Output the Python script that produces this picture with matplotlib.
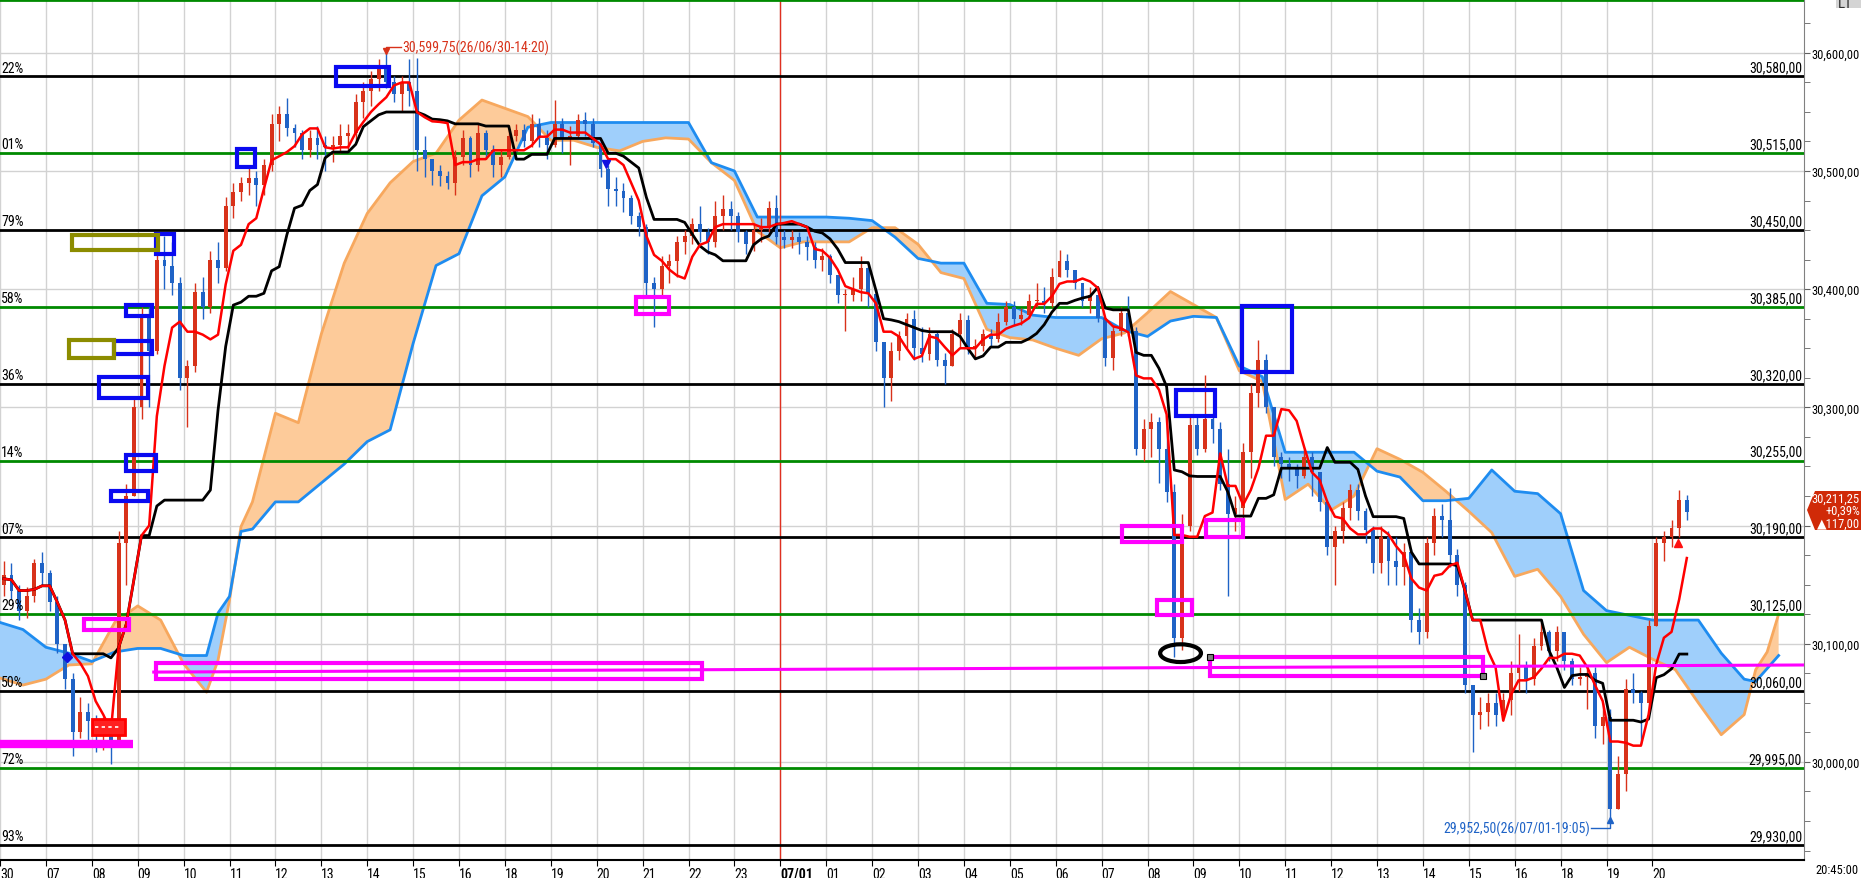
import numpy as np
import pandas as pd
import matplotlib
matplotlib.use('Agg')
import matplotlib.pyplot as plt
from matplotlib import font_manager
from matplotlib.patches import Rectangle, Ellipse, Polygon

# pick a narrow face if one is installed, the HTS font is very condensed
narrow = None
for f in font_manager.fontManager.ttflist:
    fn = f.fname.lower()
    if ('narrow' in fn or 'condensed' in fn) and f.style == 'normal' \
            and f.weight in (400, 'normal', 'regular'):
        narrow = f
        if 'liberation' in fn:
            break
fsize = 10
if narrow is None:
    plt.rcParams['font.family'] = ['DejaVu Sans']
    fsize = 7
elif narrow.name == 'DejaVu Sans':
    plt.rcParams['font.family'] = ['DejaVu Sans']
    plt.rcParams['font.stretch'] = 'condensed'
    fsize = 8
else:
    plt.rcParams['font.family'] = [narrow.name, 'DejaVu Sans']
fsmall = fsize - 1   # right axis column is only 57 px wide

############################################################
# data: 10-minute bars from 06/30 06:00, x axis in trading hours
first_open = 30150
closes = [
    30158, 30145, 30128, 30140, 30168, 30160,
    30135, 30100, 30070, 30025, 30042, 30035,
    30022, 30030, 30018, 30185, 30225, 30300,
    30378, 30348, 30425, 30420, 30405, 30325,
    30335, 30398, 30385, 30425, 30418, 30470,
    30482, 30490, 30494, 30488, 30505, 30540,
    30548, 30536, 30532, 30518, 30528, 30522,
    30520, 30522, 30530, 30532, 30558, 30568,
    30578, 30590, 30575, 30565, 30575, 30568,
    30518, 30510, 30500, 30496, 30490, 30512,
    30528, 30505, 30532, 30518, 30505, 30512,
    30530, 30535, 30525, 30540, 30528, 30522,
    30540, 30527, 30530, 30543, 30540, 30524,
    30502, 30485, 30483, 30477, 30462, 30453,
    30405, 30400, 30420, 30424, 30440, 30445,
    30455, 30448, 30440, 30462, 30468, 30462,
    30448, 30438, 30450, 30452, 30469, 30444,
    30442, 30444, 30440, 30436, 30425, 30428,
    30412, 30395, 30395, 30400, 30418, 30396,
    30355, 30325, 30348, 30360, 30375, 30350,
    30345, 30362, 30340, 30335, 30362, 30374,
    30350, 30352, 30362, 30358, 30372, 30385,
    30375, 30378, 30390, 30390, 30388, 30410,
    30424, 30416, 30405, 30390, 30395, 30376,
    30342, 30365, 30380, 30365, 30265, 30282,
    30288, 30265, 30228, 30105, 30200, 30285,
    30265, 30290, 30282, 30235, 30210, 30215,
    30262, 30312, 30340, 30300, 30258, 30252,
    30248, 30242, 30258, 30245, 30220, 30182,
    30195, 30215, 30230, 30212, 30196, 30168,
    30190, 30170, 30165, 30178, 30120, 30110,
    30185, 30208, 30205, 30175, 30150, 30065,
    30040, 30042, 30050, 30040, 30052, 30075,
    30080, 30070, 30098, 30110, 30094, 30110,
    30085, 30070, 30072, 30075, 30030, 30038,
    29960, 29990, 30062, 30058, 30050, 30115,
    30185, 30190, 30198, 30222, 30211.25,
]
highs = [
    30170, 30168, 30150, 30148, 30172, 30178,
    30162, 30140, 30098, 30075, 30055, 30050,
    30040, 30038, 30035, 30195, 30235, 30310,
    30385, 30385, 30435, 30445, 30440, 30410,
    30340, 30405, 30410, 30432, 30440, 30478,
    30490, 30495, 30505, 30500, 30510, 30548,
    30555, 30562, 30540, 30535, 30535, 30538,
    30530, 30530, 30540, 30540, 30565, 30575,
    30585, 30595, 30599.75, 30580, 30580, 30595,
    30596, 30530, 30510, 30505, 30500, 30518,
    30535, 30530, 30540, 30535, 30522, 30518,
    30535, 30540, 30540, 30548, 30545, 30535,
    30560, 30545, 30538, 30548, 30550, 30545,
    30525, 30505, 30495, 30490, 30480, 30465,
    30455, 30410, 30428, 30430, 30445, 30450,
    30460, 30470, 30452, 30475, 30480, 30475,
    30465, 30450, 30455, 30460, 30475, 30480,
    30450, 30450, 30448, 30445, 30440, 30435,
    30430, 30412, 30400, 30410, 30428, 30420,
    30400, 30355, 30355, 30365, 30380, 30382,
    30368, 30368, 30365, 30346, 30366, 30380,
    30378, 30358, 30366, 30366, 30380, 30390,
    30390, 30384, 30396, 30405, 30402, 30418,
    30433, 30430, 30415, 30405, 30402, 30395,
    30376, 30370, 30385, 30394, 30368, 30290,
    30295, 30292, 30285, 30235, 30210, 30292,
    30292, 30327, 30295, 30288, 30265, 30225,
    30270, 30320, 30357, 30345, 30300, 30262,
    30258, 30252, 30265, 30262, 30245, 30222,
    30200, 30220, 30235, 30235, 30215, 30200,
    30200, 30195, 30190, 30185, 30180, 30130,
    30190, 30215, 30218, 30232, 30180, 30152,
    30062, 30055, 30058, 30058, 30058, 30085,
    30108, 30085, 30105, 30118, 30112, 30115,
    30110, 30088, 30080, 30082, 30080, 30050,
    30045, 30005, 30070, 30075, 30060, 30120,
    30190, 30195, 30205, 30230, 30226,
]
lows = [
    30140, 30138, 30120, 30122, 30135, 30150,
    30128, 30092, 30062, 30005, 30020, 30018,
    30008, 30010, 29998, 30015, 30150, 30225,
    30290, 30300, 30345, 30400, 30395, 30315,
    30283, 30330, 30375, 30380, 30405, 30415,
    30460, 30475, 30480, 30470, 30480, 30500,
    30525, 30530, 30520, 30510, 30512, 30510,
    30500, 30508, 30515, 30518, 30525, 30545,
    30555, 30568, 30570, 30558, 30550, 30555,
    30500, 30495, 30488, 30487, 30485, 30480,
    30505, 30495, 30500, 30510, 30495, 30495,
    30510, 30525, 30520, 30520, 30520, 30510,
    30520, 30515, 30505, 30528, 30530, 30520,
    30495, 30470, 30470, 30465, 30455, 30445,
    30395, 30368, 30395, 30405, 30410, 30430,
    30438, 30440, 30430, 30436, 30450, 30450,
    30440, 30430, 30432, 30440, 30448, 30438,
    30435, 30435, 30430, 30425, 30418, 30415,
    30405, 30388, 30365, 30390, 30390, 30385,
    30348, 30300, 30305, 30340, 30350, 30340,
    30338, 30340, 30335, 30320, 30335, 30350,
    30345, 30343, 30348, 30352, 30355, 30370,
    30370, 30370, 30376, 30385, 30380, 30385,
    30410, 30410, 30400, 30385, 30380, 30372,
    30335, 30332, 30360, 30360, 30260, 30255,
    30258, 30236, 30220, 30089, 30095, 30195,
    30260, 30262, 30270, 30230, 30140, 30195,
    30195, 30240, 30300, 30295, 30250, 30240,
    30238, 30232, 30240, 30225, 30212, 30175,
    30150, 30185, 30205, 30205, 30185, 30160,
    30160, 30150, 30150, 30150, 30110, 30100,
    30105, 30175, 30190, 30165, 30140, 30058,
    30008, 30028, 30030, 30030, 30035, 30040,
    30060, 30058, 30065, 30095, 30085, 30085,
    30078, 30065, 30065, 30045, 30020, 30015,
    29952.5, 29960, 29975, 30050, 30015, 30045,
    30115, 30170, 30182, 30190, 30205,
]

hour_labels = ['30', '07', '08', '09', '10', '11', '12', '13', '14', '15',
               '16', '18', '19', '20', '21', '22', '23', '07/01', '01', '02',
               '03', '04', '05', '06', '07', '08', '09', '10', '11', '12',
               '13', '14', '15', '16', '18', '19', '20']

# leading spans (cloud)
span_u = [0, 0.5, 1, 1.5, 2, 2.5, 3, 3.5, 4, 4.5,
          4.75, 5, 5.25, 5.5, 6, 6.5, 7, 7.5, 8, 8.5,
          9, 9.5, 10, 10.5, 11, 11.5, 12, 12.5, 13, 13.5,
          14, 14.5, 15, 15.5, 16, 16.5, 17, 17.5, 18, 18.5,
          19, 19.5, 20, 20.5, 21, 21.5, 22, 22.5, 23, 23.5,
          24, 24.5, 25, 25.5, 26, 26.5, 27, 27.5, 28, 28.5,
          29, 29.5, 30, 30.5, 31, 31.5, 32, 32.5, 33, 33.5,
          34, 34.5, 35, 35.5, 36, 36.5, 37, 37.5, 38, 38.25,
          38.5, 38.75]
span_a = [30118, 30112, 30097, 30092, 30085, 30093, 30096, 30096, 30090, 30090,
          30126, 30140, 30195, 30197, 30220, 30220, 30236, 30252, 30271, 30281,
          30354, 30420, 30430, 30479, 30495, 30537, 30541, 30541, 30541, 30541,
          30541, 30541, 30541, 30507, 30500, 30461, 30461, 30461, 30461, 30460,
          30458, 30444, 30426, 30422, 30422, 30388, 30387, 30378, 30376, 30376,
          30376, 30365, 30360, 30373, 30377, 30376, 30335, 30326, 30262, 30262,
          30262, 30262, 30246, 30241, 30221, 30221, 30223, 30247, 30229, 30227,
          30210, 30145, 30128, 30124, 30120, 30120, 30120, 30092, 30070, 30068,
          30079, 30090]
span_b = [30071, 30065, 30070, 30082, 30083, 30118, 30132, 30120, 30083, 30059,
          30086, 30137, 30199, 30220, 30295, 30287, 30362, 30422, 30464, 30490,
          30508, 30515, 30543, 30560, 30553, 30546, 30526, 30526, 30520, 30517,
          30525, 30528, 30527, 30507, 30492, 30449, 30435, 30440, 30440, 30440,
          30452, 30452, 30438, 30414, 30409, 30366, 30359, 30357, 30350, 30344,
          30358, 30363, 30380, 30398, 30387, 30376, 30331, 30322, 30222, 30235,
          30213, 30225, 30265, 30256, 30245, 30229, 30212, 30194, 30157, 30163,
          30140, 30108, 30084, 30097, 30087, 30078, 30050, 30023, 30040, 30078,
          30093, 30125]

levels = [30645, 30580, 30515, 30450, 30385, 30320, 30255, 30190, 30125,
          30060, 29995, 29930]
level_pct = ['', '22%', '01%', '79%', '58%', '36%', '14%', '07%', '29%',
             '50%', '72%', '93%']

prev_close = 30094.25

############################################################

def fmt(v):
    return '{:,.2f}'.format(v).replace('.', ',')

W, H = 1861, 879
fig = plt.figure(figsize=(W / 100, H / 100), dpi=100)
ax = fig.add_axes([0, 18 / H, 1804 / W, 861 / H])
ax.set_xlim(0, 1804 / 45.9)
ax.set_ylim(29917, 30645.5)

red_c = '#D8321A'
blue_c = '#1F63C6'

# grid
for h in range(len(hour_labels)):
    ax.axvline(h, color='#D2D2D2', lw=1, zorder=0)
for p in range(30000, 30700, 100):
    ax.axhline(p, color='#D2D2D2', lw=1, zorder=0)

# cloud
su = np.array(span_u)
sa = np.array(span_a, dtype=float)
sb = np.array(span_b, dtype=float)
ax.fill_between(su, sa, sb, where=sa >= sb, interpolate=True,
                color='#9FCFFB', lw=0, zorder=1)
ax.fill_between(su, sa, sb, where=sa < sb, interpolate=True,
                color='#FDCB9A', lw=0, zorder=1)
ax.plot(su, sb, color='#F7A85E', lw=2, zorder=2)
ax.plot(su, sa, color='#1E8CF0', lw=2, zorder=2)

# red day separator
ax.axvline(17, color='#E03020', lw=1, zorder=2)

# candles
n = len(closes)
xs = (np.arange(n) + 0.5) / 6
c = np.array(closes, dtype=float)
o = np.concatenate([[first_open], c[:-1]])
hi = np.array(highs, dtype=float)
lo = np.array(lows, dtype=float)
cols = [red_c if cc >= oo else blue_c for oo, cc in zip(o, c)]
ax.vlines(xs, lo, hi, colors=cols, lw=1, zorder=4)
body = np.maximum(np.abs(c - o), 1.0)
ax.bar(xs, body, bottom=np.minimum(o, c), width=0.085, color=cols,
       lw=0, zorder=4)

# conversion / base lines
hs = pd.Series(hi)
ls = pd.Series(lo)
tenkan = (hs.rolling(5, min_periods=1).max() + ls.rolling(5, min_periods=1).min()) / 2
kijun = (hs.rolling(13, min_periods=1).max() + ls.rolling(13, min_periods=1).min()) / 2
ax.plot(xs, kijun, color='black', lw=2, zorder=5)
ax.plot(xs, tenkan, color='#FF0000', lw=1.8, zorder=5)

# level lines with labels
xr = 1802 / 45.9
for i, lv in enumerate(levels):
    col = '#008A00' if i % 2 == 0 else 'black'
    ax.axhline(lv, color=col, lw=2, zorder=3)
    if level_pct[i]:
        ax.text(0.02, lv + 1.5, level_pct[i], fontsize=fsize, ha='left',
                va='bottom', zorder=6)
        ax.text(xr, lv + 1.5, fmt(lv), fontsize=fsize, ha='right',
                va='bottom', zorder=6)

# drawn boxes
blue = '#0A0AF0'
olive = '#8C8C00'
mag = '#FF00FF'
boxes = [
    (7.33, 8.48, 30572, 30588, blue), (5.16, 5.55, 30503, 30519, blue),
    (3.40, 3.78, 30430, 30447, blue), (2.75, 3.31, 30377, 30387, blue),
    (2.49, 3.31, 30345, 30356, blue), (2.16, 3.22, 30308, 30326, blue),
    (2.75, 3.39, 30246, 30260, blue), (2.41, 3.22, 30221, 30229, blue),
    (27.05, 28.14, 30330, 30386, blue), (25.62, 26.48, 30293, 30315, blue),
    (1.56, 3.45, 30433, 30446, olive), (1.50, 2.48, 30342, 30357, olive),
    (1.83, 2.80, 30112, 30121, mag), (3.40, 15.3, 30070, 30084, mag),
    (13.86, 14.58, 30379, 30393, mag), (24.44, 25.75, 30186, 30200, mag),
    (26.27, 27.07, 30190, 30205, mag), (25.20, 25.98, 30124, 30137, mag),
    (26.36, 32.30, 30073, 30089, mag),
]
for x0, x1, y0, y1, col in boxes:
    ax.add_patch(Rectangle((x0, y0), x1 - x0, y1 - y0, fill=False,
                           ec=col, lw=3, zorder=7))
ax.plot([3.35, 1804 / 45.9], [30076, 30082], color=mag, lw=2.2, zorder=7)
ax.plot([0, 2.9], [30015, 30015], color=mag, lw=6, solid_capstyle='butt',
        zorder=7)
ax.add_patch(Rectangle((2.0, 30023), 0.72, 13, fc='#FF2020', ec='#FF0000',
                       lw=2, zorder=7))
ax.plot([2.08, 2.64], [30029.5, 30029.5], color='white', lw=1.2,
        ls=(0, (2, 2)), zorder=8)
ax.add_patch(Ellipse((25.72, 30092), 0.89, 15, fill=False, ec='black',
                     lw=3, zorder=7))
ax.plot([26.36, 32.30], [30089, 30073], ls='none', marker='s', ms=5,
        mfc='#808080', mec='black', mew=0.8, zorder=8)

# small signal markers
ax.plot(1.45, 30089, marker='D', ms=5, color='#1010E0', zorder=8)
ax.plot(13.2, 30506, marker='v', ms=6, color='#1010E0', zorder=8)
ax.plot(36.56, 30185, marker='^', ms=6, color='#FF1010', zorder=8)

# high / low notes
ih = int(np.argmax(hi))
il = int(np.argmin(lo))
ax.plot([xs[ih], xs[ih], xs[ih] + 0.33], [hi[ih] + 1, 30605, 30605],
        color=red_c, lw=1, zorder=8)
ax.plot(xs[ih], hi[ih] + 1.5, marker='v', ms=4, color=red_c, zorder=8)
ax.text(xs[ih] + 0.35, 30605, fmt(hi[ih]) + '(26/06/30-14:20)',
        color=red_c, fontsize=fsize, ha='left', va='center', zorder=8)
ax.plot([xs[il], xs[il], xs[il] - 0.42], [lo[il] - 1, 29944, 29944],
        color=blue_c, lw=1, zorder=8)
ax.plot(xs[il], lo[il] - 1.5, marker='^', ms=4, color=blue_c, zorder=8)
ax.text(xs[il] - 0.44, 29944, fmt(lo[il]) + '(26/07/01-19:05)',
        color=blue_c, fontsize=fsize, ha='right', va='center', zorder=8)

# axes styling
for s in ['top', 'left']:
    ax.spines[s].set_visible(False)
ax.spines['right'].set_color('#808080')
ax.spines['bottom'].set_color('black')
ax.spines['bottom'].set_linewidth(1.5)

ax.set_xticks(range(len(hour_labels)))
ax.set_xticklabels(hour_labels, ha='left', fontsize=fsize)
ax.get_xticklabels()[17].set_fontweight('bold')
ax.tick_params(axis='x', length=4, pad=1, direction='out')

# the 30,200 label sits under the last price tag
ytick_vals = list(range(30000, 30700, 100))
ax.yaxis.tick_right()
ax.set_yticks(ytick_vals)
ax.set_yticklabels(['' if v == 30200 else fmt(v) for v in ytick_vals],
                   fontsize=fsmall)
ax.set_yticks(range(29925, 30650, 25), minor=True)
ax.tick_params(axis='y', which='both', length=4, color='#606060', pad=1)

# last price tag
tag = [(1807, 511), (1815, 492), (1861, 492), (1861, 531), (1815, 531)]
fig.patches.append(Polygon([(x / W, 1 - y / H) for x, y in tag], closed=True,
                           fc='#D02A08', ec='none', transform=fig.transFigure))
pct = (closes[-1] - prev_close) / prev_close * 100
tag_lines = [fmt(closes[-1]), '+' + '{:.2f}%'.format(pct).replace('.', ','),
             '▲' + fmt(closes[-1] - prev_close)]
for k, t in enumerate(tag_lines):
    fig.text(1860 / W, 1 - (499 + 12.5 * k) / H, t, color='white',
             fontsize=fsmall, ha='right', va='center')

fig.text(1859 / W, 1 - 871 / H, '20:45:00', fontsize=fsmall, ha='right',
         va='center')
fig.patches.append(Rectangle((1836 / W, 1 - 9 / H), 25 / W, 9 / H,
                             fc='#D4D4D4', ec='none', transform=fig.transFigure))
fig.text(1838 / W, 1 + 3 / H, 'LT', fontsize=fsize + 1, ha='left', va='top',
         color='#303030')

fig.savefig('out.png', dpi=100)
